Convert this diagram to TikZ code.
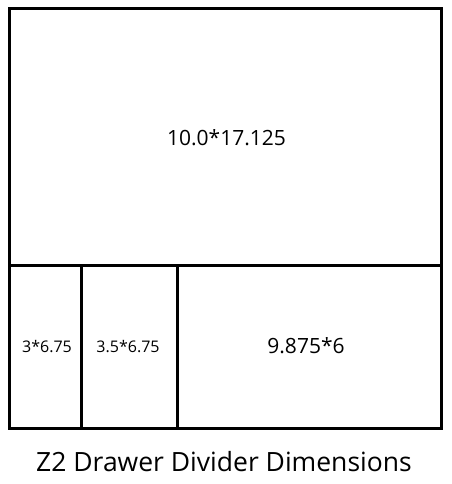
\documentclass[tikz,border=0pt]{standalone}
\usepackage{fontspec}
\setmainfont{Open Sans}
\begin{document}
\begin{tikzpicture}[x=1pt,y=-1pt,
  wall/.style={line width=3pt,line cap=rect,line join=miter},
  big/.style={font=\fontsize{21}{24}\selectfont,anchor=base,inner sep=0pt},
  small/.style={font=\fontsize{16}{19}\selectfont,anchor=base,inner sep=0pt},
  title/.style={font=\fontsize{26.5}{30}\selectfont,anchor=base,inner sep=0pt}]
\useasboundingbox[fill=white] (0,0) rectangle (451,484);
\draw[wall] (9.5,8.5) rectangle (441.5,428.5);
\draw[wall] (9.5,265.5) -- (441.5,265.5);
\draw[wall] (81.5,265.5) -- (81.5,428.5);
\draw[wall] (177.5,265.5) -- (177.5,428.5);
\node[big] (top) at (226.5,145.5) {10.0*17.125};
\node[big] (right) at (306,353) {9.875*6};
\node[small] (a) at (47,352) {3*6.75};
\node[small] (b) at (128,352) {3.5*6.75};
\node[title] (t) at (224,471) {Z2 Drawer Divider Dimensions};
\end{tikzpicture}
\end{document}
